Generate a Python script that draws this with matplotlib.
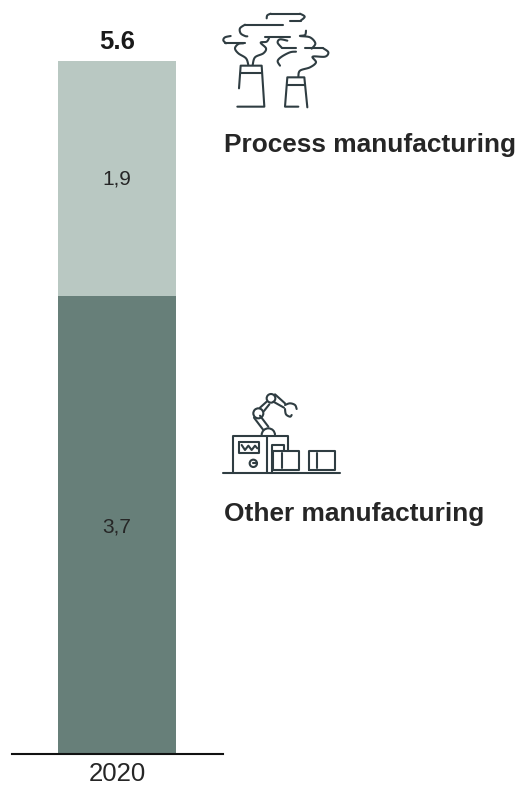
import numpy as np
import matplotlib
matplotlib.use('Agg')
import matplotlib.pyplot as plt
from matplotlib.patches import Circle, Arc

plt.rcParams['font.family'] = ['Liberation Sans', 'DejaVu Sans']

years = ['2020']
other_vals = [3.7]
process_vals = [1.9]
other_labels = ['3,7']
process_labels = ['1,9']
total_labels = ['5.6']

W, H = 518, 786
ICON = '#2f3d42'
TEXT = '#262626'

fig = plt.figure(figsize=(W / 100, H / 100), dpi=100)

# chart axes, baseline sits at y=754 px
ax = fig.add_axes([12 / W, (H - 754) / H, (223 - 12) / W, 693 / H])
ax.set_xlim(-0.894, 0.894 * (223 - 117) / (117 - 12))
ax.set_ylim(0, 5.6)
ax.patch.set_alpha(0)
x = np.arange(len(years))
ax.bar(x, other_vals, width=1.0, color='#677f79')
ax.bar(x, process_vals, width=1.0, bottom=other_vals, color='#b9c8c2')
for i in x:
    ax.text(i, other_vals[i] / 2 - 0.017, other_labels[i], ha='center', va='center', fontsize=15, color=TEXT)
    ax.text(i, other_vals[i] + process_vals[i] / 2 - 0.002, process_labels[i], ha='center', va='center', fontsize=15, color=TEXT)
    ax.text(i, other_vals[i] + process_vals[i] + 0.058, total_labels[i], ha='center', va='bottom', fontsize=18.5, fontweight='bold', color='#1a1a1a')
for s in ['top', 'left', 'right']:
    ax.spines[s].set_visible(False)
ax.spines['bottom'].set_linewidth(1.5)
ax.spines['bottom'].set_color('#111111')
ax.set_yticks([])
ax.set_xticks(x)
ax.set_xticklabels(years, fontsize=18.5, color=TEXT)
ax.tick_params(axis='x', length=0, pad=5.5)

# overlay in pixels for the icons and captions
ov = fig.add_axes([0, 0, 1, 1])
ov.set_xlim(0, W)
ov.set_ylim(H, 0)
ov.axis('off')
ov.patch.set_alpha(0)

ov.text(224, 145, 'Process manufacturing', fontsize=18.9, fontweight='bold', color=TEXT, va='center')
ov.text(224, 514, 'Other manufacturing', fontsize=18.9, fontweight='bold', color=TEXT, va='center')


def smooth(pts, n=12):
    p = np.array(pts, dtype=float)
    p = np.vstack([p[0], p, p[-1]])
    out = []
    for i in range(1, len(p) - 2):
        for t in np.linspace(0, 1, n, endpoint=False):
            a = 2 * p[i] + (p[i + 1] - p[i - 1]) * t
            b = (2 * p[i - 1] - 5 * p[i] + 4 * p[i + 1] - p[i + 2]) * t ** 2
            c = (3 * p[i] - p[i - 1] - 3 * p[i + 1] + p[i + 2]) * t ** 3
            out.append(0.5 * (a + b + c))
    out.append(p[-1])
    return np.array(out)


def stroke(pts, ox, oy, curved=False):
    # pts are in 3x zoom coordinates of the icon crop
    q = smooth(pts) if curved else np.array(pts, dtype=float)
    ov.plot(ox + q[:, 0] / 3, oy + q[:, 1] / 3, color=ICON, lw=1.5, solid_capstyle='round', solid_joinstyle='round')


# factory icon
fx, fy = 210, 0
factory_lines = [
    [(87, 265), (92, 197), (155, 197), (163, 320), (82, 320)],
    [(92, 220), (157, 220)],
    [(265, 320), (225, 320), (232, 232), (283, 232), (292, 322)],
    [(230, 255), (285, 255)],
    [(165, 110), (240, 110)],
    [(45, 130), (105, 130)],
    [(285, 145), (340, 145)],
    [(215, 145), (258, 145)],
    [(182, 41), (270, 41)],
    [(240, 62), (272, 62)],
    [(105, 74), (220, 74)],
]
factory_curves = [
    [(170, 55), (172, 46), (182, 41)],
    [(270, 41), (284, 50), (272, 62)],
    [(105, 74), (90, 85), (92, 100), (105, 108), (112, 109)],
    [(62, 108), (45, 112), (40, 121), (48, 130)],
    [(115, 195), (108, 175), (85, 160), (75, 145), (85, 132), (100, 130)],
    [(128, 195), (135, 172), (160, 160), (168, 145), (152, 128), (170, 125), (178, 112)],
    [(232, 122), (210, 118), (203, 128), (215, 143)],
    [(258, 155), (240, 157), (215, 170), (203, 183), (210, 197)],
    [(265, 230), (270, 212), (300, 202), (318, 187), (308, 170), (345, 170), (355, 157), (340, 145)],
    [(288, 92), (285, 105), (270, 108), (300, 112), (316, 130), (305, 146)],
]
for l in factory_lines:
    stroke(l, fx, fy)
for c in factory_curves:
    stroke(c, fx, fy, curved=True)

# robot icon
rx, ry = 210, 385
robot_lines = [
    [(38, 265), (390, 265)],
    [(68, 265), (68, 153), (235, 153), (235, 197)],
    [(170, 153), (170, 265)],
    [(88, 170), (148, 170), (148, 205), (88, 205), (88, 170)],
    [(95, 180), (105, 195), (115, 182), (125, 195), (135, 182), (142, 190)],
    [(185, 265), (185, 180), (222, 180), (222, 197)],
    [(190, 197), (268, 197), (268, 255), (190, 255), (190, 197)],
    [(215, 205), (215, 250)],
    [(297, 255), (297, 197), (375, 197), (375, 255), (297, 255)],
    [(322, 205), (322, 250)],
    [(132, 98), (160, 135)],
    [(150, 92), (175, 125)],
    [(150, 68), (170, 50)],
    [(162, 78), (178, 58)],
    [(195, 28), (225, 55)],
    [(190, 50), (222, 68)],
    [(130, 235), (140, 235)],
]
for l in robot_lines:
    stroke(l, rx, ry)
stroke([(225, 60), (240, 55), (255, 60), (260, 72)], rx, ry, curved=True)
stroke([(225, 72), (228, 88), (240, 95), (245, 90)], rx, ry, curved=True)
for cx, cy, r in [(145, 85, 15), (183, 40, 13), (130, 235, 11)]:
    ov.add_patch(Circle((rx + cx / 3, ry + cy / 3), r / 3, fill=False, ec=ICON, lw=1.5))
ov.add_patch(Arc((rx + 175 / 3, ry + 150 / 3), 40 / 3, 40 / 3, theta1=180, theta2=360, ec=ICON, lw=1.5))

fig.savefig('out.png', dpi=100)
